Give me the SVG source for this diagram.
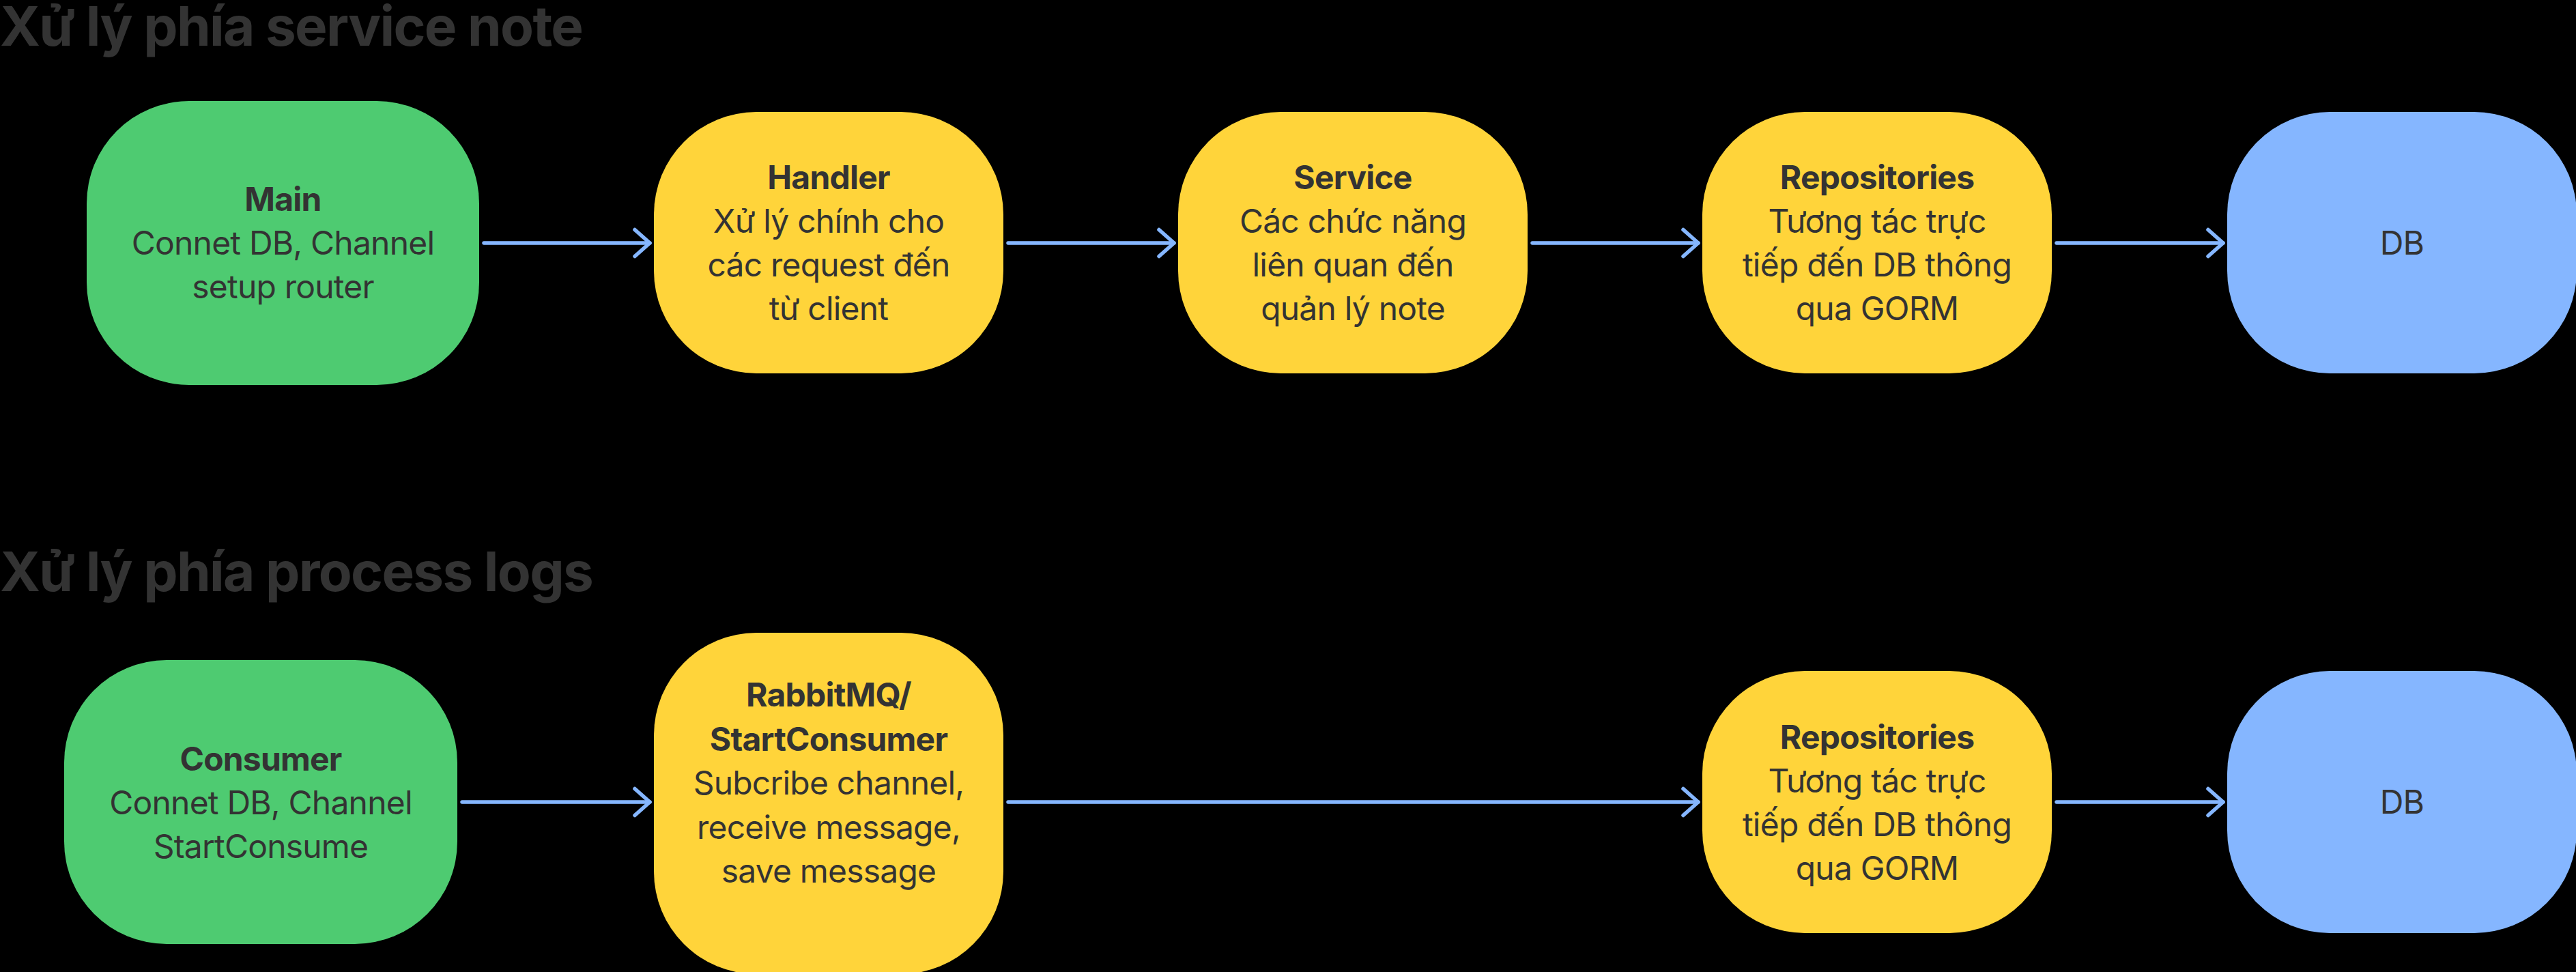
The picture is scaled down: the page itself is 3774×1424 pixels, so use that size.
<svg xmlns="http://www.w3.org/2000/svg" width="3774" height="1424" viewBox="0 0 3774 1424">
<defs>
<style>
.bg{fill:#000}
.green{fill:#4ECB71}
.yellow{fill:#FFD43A}
.blue{fill:#85B6FF}
.title{font-family:Inter,"Noto Sans","Liberation Sans",sans-serif;font-weight:700;font-size:80px;fill:#333333;letter-spacing:-1.7px}
.t{font-family:Inter,"Noto Sans","Liberation Sans",sans-serif;font-size:48px;fill:#333333;text-anchor:middle;letter-spacing:-0.8px}
.b{font-weight:700}
.conn line,.conn path{stroke:#85B6FF;stroke-width:5.5;fill:none;stroke-linecap:round;stroke-linejoin:round}
</style>
</defs>
<rect class="bg" x="0" y="0" width="3774" height="1424"/>
<text class="title" x="0" y="67">Xử lý phía service note</text>
<text class="title" x="0" y="866">Xử lý phía process logs</text>

<g id="node-main">
<rect class="green" x="127" y="148" width="575" height="416" rx="150" ry="150"/>
<text class="t b" x="414.5" y="309">Main</text>
<text class="t" x="414.5" y="373">Connet DB, Channel</text>
<text class="t" x="414.5" y="437">setup router</text>
</g>
<g id="node-handler">
<rect class="yellow" x="958" y="164" width="512" height="383" rx="150" ry="150"/>
<text class="t b" x="1214" y="277">Handler</text>
<text class="t" x="1214" y="341">Xử lý chính cho</text>
<text class="t" x="1214" y="405">các request đến</text>
<text class="t" x="1214" y="469">từ client</text>
</g>
<g id="node-service">
<rect class="yellow" x="1726" y="164" width="512" height="383" rx="150" ry="150"/>
<text class="t b" x="1982" y="277">Service</text>
<text class="t" x="1982" y="341">Các chức năng</text>
<text class="t" x="1982" y="405">liên quan đến</text>
<text class="t" x="1982" y="469">quản lý note</text>
</g>
<g id="node-repositories-1">
<rect class="yellow" x="2494" y="164" width="512" height="383" rx="150" ry="150"/>
<text class="t b" x="2750" y="277">Repositories</text>
<text class="t" x="2750" y="341">Tương tác trực</text>
<text class="t" x="2750" y="405">tiếp đến DB thông</text>
<text class="t" x="2750" y="469">qua GORM</text>
</g>
<g id="node-db-1">
<rect class="blue" x="3263" y="164" width="512" height="383" rx="150" ry="150"/>
<text class="t" x="3519" y="373">DB</text>
</g>

<g id="node-consumer">
<rect class="green" x="94" y="967" width="576" height="416" rx="150" ry="150"/>
<text class="t b" x="382" y="1129">Consumer</text>
<text class="t" x="382" y="1193">Connet DB, Channel</text>
<text class="t" x="382" y="1257">StartConsume</text>
</g>
<g id="node-rabbitmq">
<rect class="yellow" x="958" y="927" width="512" height="500" rx="150" ry="150"/>
<text class="t b" x="1214" y="1035">RabbitMQ/</text>
<text class="t b" x="1214" y="1099.5">StartConsumer</text>
<text class="t" x="1214" y="1164">Subcribe channel,</text>
<text class="t" x="1214" y="1228.5">receive message,</text>
<text class="t" x="1214" y="1293">save message</text>
</g>
<g id="node-repositories-2">
<rect class="yellow" x="2494" y="983" width="512" height="384" rx="150" ry="150"/>
<text class="t b" x="2750" y="1097">Repositories</text>
<text class="t" x="2750" y="1161">Tương tác trực</text>
<text class="t" x="2750" y="1225">tiếp đến DB thông</text>
<text class="t" x="2750" y="1289">qua GORM</text>
</g>
<g id="node-db-2">
<rect class="blue" x="3263" y="983" width="512" height="384" rx="150" ry="150"/>
<text class="t" x="3519" y="1192">DB</text>
</g>

<g id="connectors" class="conn">
<line x1="709" y1="356" x2="952" y2="356"/><path d="M930 336.5 L952 356 L930 375.5"/>
<line x1="1477" y1="356" x2="1720" y2="356"/><path d="M1698 336.5 L1720 356 L1698 375.5"/>
<line x1="2245" y1="356" x2="2488" y2="356"/><path d="M2466 336.5 L2488 356 L2466 375.5"/>
<line x1="3013" y1="356" x2="3257" y2="356"/><path d="M3235 336.5 L3257 356 L3235 375.5"/>
<line x1="677" y1="1175" x2="952" y2="1175"/><path d="M930 1155.5 L952 1175 L930 1194.5"/>
<line x1="1477" y1="1175" x2="2488" y2="1175"/><path d="M2466 1155.5 L2488 1175 L2466 1194.5"/>
<line x1="3013" y1="1175" x2="3257" y2="1175"/><path d="M3235 1155.5 L3257 1175 L3235 1194.5"/>
</g>
</svg>
